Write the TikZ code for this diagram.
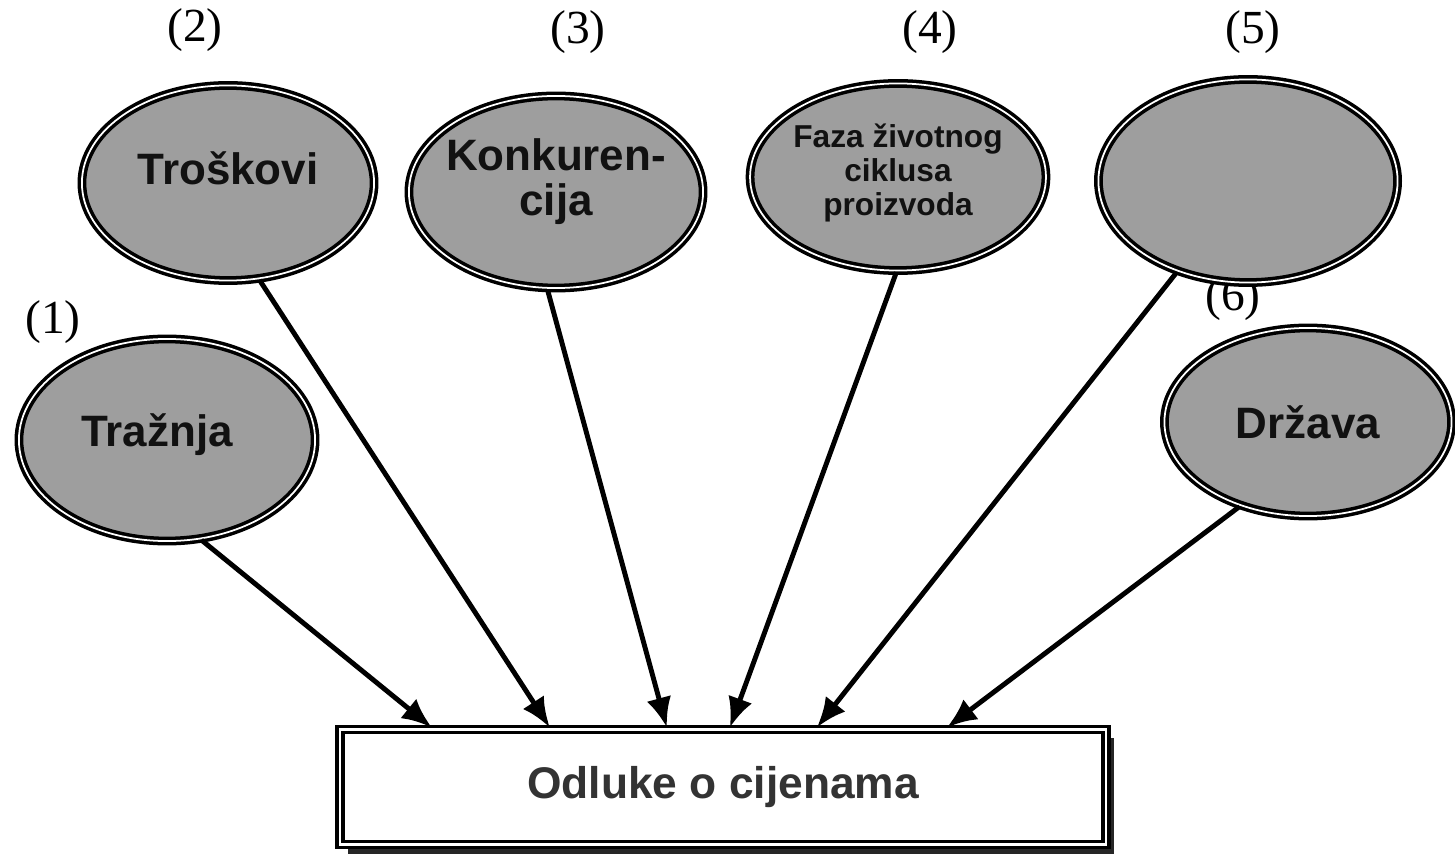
\documentclass[tikz,border=0pt]{standalone}
\usepackage{fontspec}
\setmainfont{Liberation Serif}
\setsansfont{Liberation Sans}
\usepackage{tikz}
\usetikzlibrary{arrows.meta,calc,shapes.geometric,shadows}
\definecolor{oval}{HTML}{9E9E9E}
\definecolor{ink}{HTML}{111111}
\definecolor{boxtext}{HTML}{333333}

\begin{document}
\begin{tikzpicture}[x=0.01cm, y=-0.01cm, >={Latex[length=0.3cm,width=0.25cm]},
  factor/.style={ellipse, draw, double=white, double distance=0.5pt, line width=1pt, fill=oval, inner sep=0pt, text=ink, align=center, font=\sffamily\bfseries\fontsize{12.5}{13}\selectfont},
  num/.style={font=\fontsize{13.5}{15}\selectfont}]
\useasboundingbox[fill=white] (0,0) rectangle (1455,861);
\node[num] (n1) at (53,322) {(1)};
\node[num] (n2) at (195,30) {(2)};
\node[num] (n3) at (578,32) {(3)};
\node[num] (n4) at (930,32) {(4)};
\node[num] (n5) at (1253,32) {(5)};
\node[num] (n6) at (1233,299) {(6)};
\node[factor, minimum width=2.96cm, minimum height=2.02cm, text depth=0.2cm] (traznja) at (167,440) {Tražnja\hspace*{0.2cm}};
\node[factor, minimum width=2.92cm, minimum height=1.95cm, text depth=0.3cm] (troskovi) at (228,183) {Troškovi};
\node[factor, minimum width=2.94cm, minimum height=1.92cm, text depth=0.3cm, inner xsep=-0.2cm] (konkurencija) at (556,192) {Konkuren-\\cija};
\node[factor, minimum width=2.91cm, minimum height=1.87cm, text depth=0.15cm, font=\sffamily\bfseries\fontsize{9}{9.6}\selectfont] (faza) at (898,177) {Faza životnog\\ciklusa\\proizvoda};
\node[factor, minimum width=2.99cm, minimum height=2.03cm] (prazno) at (1248,181) {};
\node[factor, minimum width=2.87cm, minimum height=1.88cm] (drzava) at (1308,422) {Država};
\node[draw, double=white, double distance=0.6pt, line width=1.1pt, fill=white, minimum width=7.66cm, minimum height=1.15cm,
  drop shadow={shadow xshift=0.08cm, shadow yshift=-0.09cm, fill=black!85, opacity=1},
  text=boxtext, font=\sffamily\bfseries\fontsize{12.6}{14}\selectfont] (odluke) at (723,787) {Odluke o cijenama};
\draw[->, line width=1.4pt] (traznja.-71) -- ($(odluke.north west)+(94,0)$);
\draw[->, line width=1.4pt] (troskovi.-72) -- ($(odluke.north west)+(212,0)$);
\draw[->, line width=1.4pt] (konkurencija.-95) -- ($(odluke.north west)+(329,0)$);
\draw[->, line width=1.4pt] (faza.-91) -- ($(odluke.north west)+(392,0)$);
\draw[->, line width=1.4pt] (prazno.-128) -- ($(odluke.north west)+(479,0)$);
\draw[->, line width=1.4pt] (drzava.-129) -- ($(odluke.north west)+(609,0)$);
\end{tikzpicture}
\end{document}
